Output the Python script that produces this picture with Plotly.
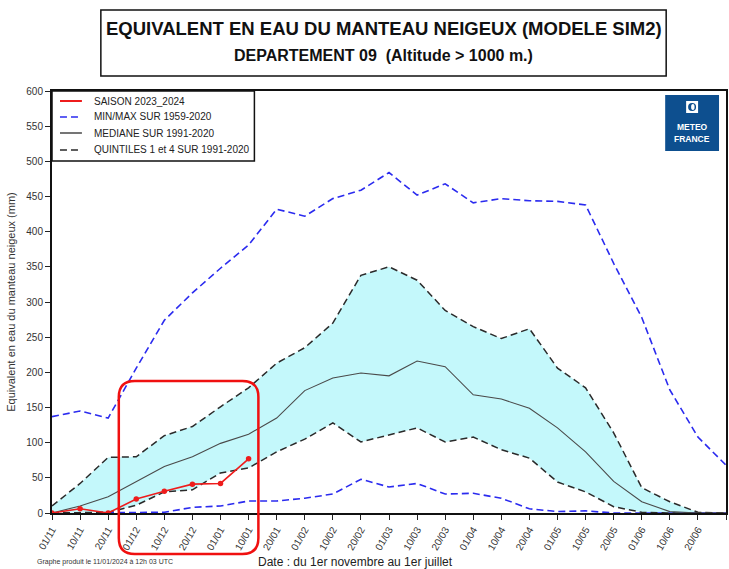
import plotly.graph_objects as go

# ---------------- data ----------------
dates = ["01/11", "10/11", "20/11", "01/12", "10/12", "20/12", "01/01", "10/01",
         "20/01", "01/02", "10/02", "20/02", "01/03", "10/03", "20/03", "01/04",
         "10/04", "20/04", "01/05", "10/05", "20/05", "01/06", "10/06", "20/06", "01/07"]
max_vals = [137, 145, 135, 206, 274, 313, 348, 381, 432, 422, 447, 459, 484, 452,
            468, 441, 447, 444, 443, 438, 355, 278, 175, 108, 68]
min_vals = [0, 0, 0, 0, 1, 8, 10, 17, 17, 21, 27, 48, 37, 42, 27, 28, 21, 6, 2, 3,
            0, 0, 0, 0, 0]
q4_vals = [10, 42, 79, 80, 110, 123, 151, 178, 213, 235, 270, 338, 350, 331, 288,
           265, 248, 262, 206, 178, 114, 36, 16, 1, 0]
median_vals = [0, 10, 23, 44, 66, 80, 99, 112, 135, 174, 192, 199, 195, 216, 208,
               168, 162, 149, 121, 87, 45, 16, 2, 0, 0]
q1_vals = [0, 0, 1, 11, 30, 33, 57, 64, 87, 105, 128, 101, 111, 121, 101, 108, 90,
           78, 44, 30, 9, 1, 0, 0, 0]
season_vals = [0, 6, 0, 20, 31, 41, 42, 77]

legend_labels = ["SAISON 2023_2024", "MIN/MAX SUR 1959-2020",
                 "MEDIANE SUR 1991-2020", "QUINTILES 1 et 4 SUR 1991-2020"]

# ---------------- geometry helpers ----------------
W, H = 729, 569
ML, MR, MT, MB = 52, 1, 91, 56
PW, PH = W - ML - MR, H - MT - MB


def px(x):
    return (x - ML) / PW


def py(y):
    return (H - MB - y) / PH


xi = list(range(len(dates)))
BLUE = "#2b2bef"
RED = "#ee1c1c"
DARK = "#2a2a2a"
DASH = "7px,4px"
FONT = "Liberation Sans, Arial"

fig = go.Figure()

# band between quintiles
fig.add_trace(go.Scatter(x=xi, y=q1_vals, mode="lines", line=dict(width=0),
                         showlegend=False, hoverinfo="skip"))
fig.add_trace(go.Scatter(x=xi, y=q4_vals, mode="lines", line=dict(width=0),
                         fill="tonexty", fillcolor="#c4f8fb", showlegend=False,
                         hoverinfo="skip"))

# min / max
fig.add_trace(go.Scatter(x=xi, y=max_vals, mode="lines",
                         line=dict(color=BLUE, width=1.6, dash=DASH),
                         showlegend=False, name=legend_labels[1]))
fig.add_trace(go.Scatter(x=xi, y=min_vals, mode="lines",
                         line=dict(color=BLUE, width=1.6, dash=DASH),
                         showlegend=False, name=legend_labels[1]))
# quintiles
fig.add_trace(go.Scatter(x=xi, y=q4_vals, mode="lines",
                         line=dict(color=DARK, width=1.5, dash=DASH),
                         showlegend=False, name=legend_labels[3]))
fig.add_trace(go.Scatter(x=xi, y=q1_vals, mode="lines",
                         line=dict(color=DARK, width=1.5, dash=DASH),
                         showlegend=False, name=legend_labels[3]))
# median
fig.add_trace(go.Scatter(x=xi, y=median_vals, mode="lines",
                         line=dict(color="#4a4a4a", width=1.1),
                         showlegend=False, name=legend_labels[2]))
# season
fig.add_trace(go.Scatter(x=xi[:len(season_vals)], y=season_vals, mode="lines+markers",
                         line=dict(color=RED, width=1.6),
                         marker=dict(color=RED, size=5.5),
                         showlegend=False, name=legend_labels[0]))

shapes = []
annotations = []

# title box
shapes.append(dict(type="rect", xref="paper", yref="paper",
                   x0=px(101), x1=px(668), y0=py(76), y1=py(10),
                   line=dict(color="#111", width=1.5), fillcolor="white"))
annotations.append(dict(xref="paper", yref="paper", x=px(384.5), y=py(29),
                        text="<b>EQUIVALENT EN EAU DU MANTEAU NEIGEUX (MODELE SIM2)</b>",
                        showarrow=False, font=dict(size=18.5, color="#111", family=FONT),
                        xanchor="center", yanchor="middle"))
annotations.append(dict(xref="paper", yref="paper", x=px(384.5), y=py(55),
                        text="<b>DEPARTEMENT 09  (Altitude &gt; 1000 m.)</b>",
                        showarrow=False, font=dict(size=16, color="#111", family=FONT),
                        xanchor="center", yanchor="middle"))

# manual legend
shapes.append(dict(type="rect", xref="paper", yref="paper", layer="above",
                   x0=0, x1=px(255), y0=py(161), y1=1,
                   line=dict(color="#111", width=1.5), fillcolor="white"))
leg_styles = [dict(color=RED, width=2, dash="solid"),
              dict(color=BLUE, width=1.6, dash=DASH),
              dict(color=DARK, width=1.3, dash="solid"),
              dict(color=DARK, width=1.6, dash=DASH)]
leg_rows = [101, 117, 133, 150]
for lab, st, ry in zip(legend_labels, leg_styles, leg_rows):
    shapes.append(dict(type="line", xref="paper", yref="paper", layer="above",
                       x0=px(60), x1=px(82), y0=py(ry), y1=py(ry), line=st))
    annotations.append(dict(xref="paper", yref="paper", x=px(92), y=py(ry),
                            text=lab, showarrow=False, xanchor="left",
                            yanchor="middle",
                            font=dict(size=10, color="#222", family=FONT)))

# Meteo-France logo
shapes.append(dict(type="rect", xref="paper", yref="paper", layer="above",
                   x0=px(667), x1=px(721), y0=py(151), y1=py(95),
                   line=dict(width=0), fillcolor="#0d4f8f"))
shapes.append(dict(type="rect", xref="paper", yref="paper", layer="above",
                   x0=px(688), x1=px(700), y0=py(113), y1=py(101),
                   line=dict(width=0), fillcolor="white"))
shapes.append(dict(type="circle", xref="paper", yref="paper", layer="above",
                   x0=px(690), x1=px(698), y0=py(111), y1=py(103),
                   line=dict(width=0), fillcolor="#0d4f8f"))
shapes.append(dict(type="circle", xref="paper", yref="paper", layer="above",
                   x0=px(693), x1=px(696.5), y0=py(110), y1=py(104),
                   line=dict(width=0), fillcolor="white"))
annotations.append(dict(xref="paper", yref="paper", x=px(694), y=py(127),
                        text="<b>METEO</b>", showarrow=False,
                        font=dict(size=8.5, color="white", family=FONT),
                        xanchor="center", yanchor="middle"))
annotations.append(dict(xref="paper", yref="paper", x=px(694), y=py(138.5),
                        text="<b>FRANCE</b>", showarrow=False,
                        font=dict(size=8.5, color="white", family=FONT),
                        xanchor="center", yanchor="middle"))

# red rounded highlight rectangle
x0, x1 = px(119), px(259)
yt, yb = py(381), py(554)
rx, ry_ = 16 / PW, 16 / PH
path = (f"M {x0 + rx},{yt} L {x1 - rx},{yt} Q {x1},{yt} {x1},{yt - ry_} "
        f"L {x1},{yb + ry_} Q {x1},{yb} {x1 - rx},{yb} "
        f"L {x0 + rx},{yb} Q {x0},{yb} {x0},{yb + ry_} "
        f"L {x0},{yt - ry_} Q {x0},{yt} {x0 + rx},{yt} Z")
shapes.append(dict(type="path", xref="paper", yref="paper", layer="above",
                   path=path, line=dict(color="#f01010", width=2.5)))

# footer texts
annotations.append(dict(xref="paper", yref="paper", x=px(35), y=py(562),
                        text="Graphe produit le 11/01/2024 à 12h 03 UTC",
                        showarrow=False, xanchor="left", yanchor="middle",
                        font=dict(size=7, color="#333", family=FONT)))
annotations.append(dict(xref="paper", yref="paper", x=px(356), y=py(562),
                        text="Date : du 1er novembre au 1er juillet",
                        showarrow=False, xanchor="center", yanchor="middle",
                        font=dict(size=12, color="#222", family=FONT)))

fig.update_layout(
    width=W, height=H,
    margin=dict(l=ML, r=MR, t=MT, b=MB, pad=0),
    paper_bgcolor="white", plot_bgcolor="white",
    showlegend=False,
    font=dict(family=FONT, color="#222"),
    shapes=shapes, annotations=annotations,
    xaxis=dict(range=[0, len(dates) - 1], tickmode="array", tickvals=xi,
               ticktext=dates, tickangle=-60, ticks="outside", ticklen=5,
               tickwidth=1, tickcolor="#222", showgrid=False, zeroline=False,
               showline=True, linecolor="#111", linewidth=2, mirror=True,
               tickfont=dict(size=10, color="#333")),
    yaxis=dict(range=[0, 600], dtick=50, ticks="outside", ticklen=5, tickwidth=1,
               tickcolor="#222", showgrid=False, zeroline=False, showline=True,
               linecolor="#111", linewidth=2, mirror=True,
               tickfont=dict(size=10, color="#333"),
               title=dict(text="Equivalent en eau du manteau neigeux (mm)",
                          font=dict(size=11, color="#333"), standoff=8)),
)

fig.write_html("out.html", config={"displayModeBar": False},
               post_script="document.body.style.margin='0';document.body.style.overflow='hidden';")
